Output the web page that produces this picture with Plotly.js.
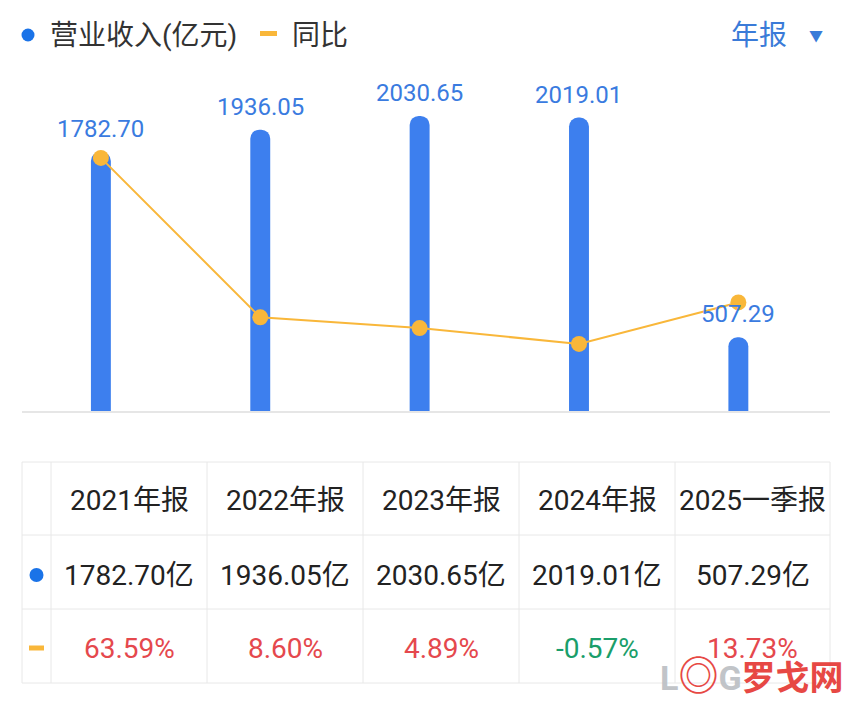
<!DOCTYPE html>
<html>
<head>
<meta charset="utf-8">
<script src="https://cdn.plot.ly/plotly-3.0.1.min.js"></script>
<style>
html,body{margin:0;padding:0;background:#fff;}
#chart{width:855px;height:720px;}
</style>
</head>
<body>
<div id="chart"></div>
<script>
// ---- data ----
var periods = ['2021年报', '2022年报', '2023年报', '2024年报', '2025一季报'];
var revenue = [1782.70, 1936.05, 2030.65, 2019.01, 507.29];   // 营业收入(亿元)
var yoy = [63.59, 8.60, 4.89, -0.57, 13.73];                   // 同比(%)
var seriesNames = ['营业收入(亿元)', '同比'];
var periodSelector = '年报';

// ---- styles ----
var W = 855, H = 720;
var FONT = 'Roboto, "Noto Sans CJK SC", sans-serif';
var BLUE = '#3d7fee';
var LABEL_BLUE = '#3a7be0';
var DOT_BLUE = '#1a73e8';
var ORANGE = '#f9b73a';
var RED = '#e5484d';
var GREEN = '#1a9e6a';
var TEXT = '#222222';
var GRID = '#e8e8e8';
function px(x){ return x / W; }
function py(y){ return 1 - y / H; }

var xIdx = periods.map(function(_, i){ return i; });

var barTrace = {
  type: 'bar',
  x: xIdx,
  y: revenue,
  width: 0.125,
  marker: { color: BLUE, cornerradius: 10 },
  hoverinfo: 'skip',
  showlegend: false
};

var lineTrace = {
  type: 'scatter',
  mode: 'lines+markers',
  x: xIdx,
  y: yoy,
  yaxis: 'y2',
  line: { color: ORANGE, width: 2 },
  marker: { color: ORANGE, size: 16 },
  cliponaxis: false,
  hoverinfo: 'skip',
  showlegend: false
};

// ---- annotations: bar value labels ----
var annotations = revenue.map(function(v, i){
  return {
    x: i, y: v, xref: 'x', yref: 'y',
    text: v.toFixed(2),
    showarrow: false,
    yanchor: 'middle',
    yshift: 23,
    font: { family: FONT, size: 24, color: LABEL_BLUE }
  };
});

function paperText(x, y, text, size, color, xanchor, extra){
  var a = {
    xref: 'paper', yref: 'paper', x: px(x), y: py(y),
    xanchor: xanchor || 'center', yanchor: 'middle', showarrow: false,
    text: text, font: { family: FONT, size: size, color: color }
  };
  if (extra) for (var k in extra) a[k] = extra[k];
  return a;
}

// legend / header
annotations.push(paperText(48, 35, seriesNames[0], 28, '#333333', 'left'));
annotations.push(paperText(290, 35, seriesNames[1], 28, '#333333', 'left'));
annotations.push(paperText(729, 35, periodSelector, 28, '#3a7bd8', 'left'));
annotations.push(paperText(816, 36, '▼', 14, '#3a7bd8', 'center'));

// ---- table (grid lines + cell texts) ----
var colEdges = [22, 51, 207, 363, 519, 675, 830];
var rowEdges = [462, 535, 609, 683];
var rowCenters = [500, 575, 648];

var shapes = [];
colEdges.forEach(function(x){
  shapes.push({ type: 'line', xref: 'paper', yref: 'paper',
    x0: px(x), x1: px(x), y0: py(rowEdges[0]), y1: py(rowEdges[rowEdges.length - 1]),
    line: { color: GRID, width: 1 } });
});
rowEdges.forEach(function(y){
  shapes.push({ type: 'line', xref: 'paper', yref: 'paper',
    x0: px(colEdges[0]), x1: px(colEdges[colEdges.length - 1]), y0: py(y), y1: py(y),
    line: { color: GRID, width: 1 } });
});

for (var i = 0; i < periods.length; i++) {
  var cx = (colEdges[i + 1] + colEdges[i + 2]) / 2;
  annotations.push(paperText(cx, rowCenters[0], periods[i], 28, TEXT));
  annotations.push(paperText(cx, rowCenters[1], revenue[i].toFixed(2) + '亿', 28, TEXT));
  annotations.push(paperText(cx, rowCenters[2], yoy[i].toFixed(2) + '%', 28, yoy[i] >= 0 ? RED : GREEN));
}

// series markers (legend + table first column)
var c0 = (colEdges[0] + colEdges[1]) / 2;
shapes.push({ type: 'circle', xref: 'paper', yref: 'paper',
  x0: px(21.5), x1: px(34.5), y0: py(41.5), y1: py(28.5),
  fillcolor: DOT_BLUE, line: { width: 0 } });
shapes.push({ type: 'rect', xref: 'paper', yref: 'paper',
  x0: px(260), x1: px(277), y0: py(36), y1: py(31),
  fillcolor: ORANGE, line: { width: 0 } });
shapes.push({ type: 'circle', xref: 'paper', yref: 'paper',
  x0: px(c0 - 7), x1: px(c0 + 7), y0: py(rowCenters[1] + 7), y1: py(rowCenters[1] - 7),
  fillcolor: DOT_BLUE, line: { width: 0 } });
shapes.push({ type: 'rect', xref: 'paper', yref: 'paper',
  x0: px(c0 - 7.5), x1: px(c0 + 7.5), y0: py(rowCenters[2] + 2.5), y1: py(rowCenters[2] - 2.5),
  fillcolor: ORANGE, line: { width: 0 } });

// watermark
annotations.push(paperText(845, 676,
  "<span style='color:#bcc0c4'>L</span><span style='color:#e53935;font-size:40px'>◎</span><span style='color:#bcc0c4'>G</span><span style='color:#e53935'>罗戈网</span>",
  34, '#e53935', 'right', { opacity: 0.92, bgcolor: 'rgba(255,255,255,0)', borderpad: 0 }));
annotations[annotations.length - 1].font.weight = 'bold';

var layout = {
  width: W, height: H,
  margin: { l: 0, r: 0, t: 0, b: 0 },
  paper_bgcolor: '#ffffff',
  plot_bgcolor: '#ffffff',
  showlegend: false,
  xaxis: {
    domain: [px(22), px(830)],
    range: [-0.495, 4.575],
    showticklabels: false, ticks: '', showgrid: false, zeroline: false,
    showline: true, linecolor: '#e6e6e6', linewidth: 2,
    fixedrange: true
  },
  yaxis: {
    domain: [py(411), py(90)],
    range: [0, 2209],
    visible: false, showgrid: false, zeroline: false, fixedrange: true
  },
  yaxis2: {
    overlaying: 'y', side: 'right',
    range: [-23.7, 87.0],
    visible: false, showgrid: false, zeroline: false, fixedrange: true
  },
  annotations: annotations,
  shapes: shapes
};

Plotly.newPlot('chart', [barTrace, lineTrace], layout, { displayModeBar: false, staticPlot: true });
</script>
</body>
</html>
